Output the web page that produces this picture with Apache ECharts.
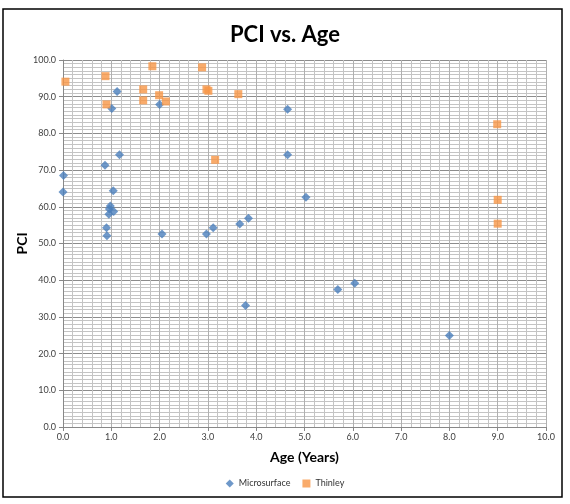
<!DOCTYPE html>
<html>
<head>
<meta charset="utf-8">
<script src="https://cdn.jsdelivr.net/npm/echarts@6/dist/echarts.min.js"></script>
<style>
html,body{margin:0;padding:0;background:#fff;}
#chart{width:570px;height:504px;}
</style>
</head>
<body>
<div id="chart"></div>
<script>
var microAge = [0.01, 0.00, 1.12, 1.01, 0.87, 1.17, 1.04, 0.98, 0.96, 1.05, 0.95, 0.90, 0.91, 2.05, 2.97, 3.11, 3.66, 3.84, 2.00, 3.78, 4.65, 4.65, 5.03, 5.69, 6.04, 8.00];
var microPCI = [68.5, 64.0, 91.4, 86.8, 71.3, 74.2, 64.4, 60.2, 59.4, 58.7, 58.0, 54.3, 52.1, 52.6, 52.6, 54.3, 55.3, 56.9, 87.9, 33.1, 86.6, 74.2, 62.6, 37.5, 39.2, 24.9];
var thinAge = [0.05, 0.88, 0.90, 1.85, 1.66, 1.66, 1.99, 2.13, 2.88, 2.97, 3.01, 3.15, 3.63, 8.99, 9.00, 9.00];
var thinPCI = [94.1, 95.6, 87.9, 98.3, 92.0, 89.0, 90.4, 88.7, 98.0, 92.0, 91.6, 72.8, 90.7, 82.5, 61.9, 55.4];
var seriesNames = ['Microsurface', 'Thinley'];
var titleText = 'PCI vs. Age';
var xName = 'Age (Years)';
var yName = 'PCI';

function pairs(xs, ys){ return xs.map(function(x,i){ return [x, ys[i]]; }); }

var font = 'Lato, Calibri, "Open Sans", sans-serif';
var chart = echarts.init(document.getElementById('chart'));
chart.setOption({
  animation: false,
  backgroundColor: '#fff',
  textStyle: { fontFamily: font },
  title: {
    text: titleText, left: 'center', top: 19,
    textStyle: { fontFamily: font, fontSize: 22, fontWeight: 'bold', color: '#000' }
  },
  graphic: [{
    type: 'rect', shape: { x: 3, y: 9, width: 559, height: 488 },
    style: { fill: 'none', stroke: '#000', lineWidth: 1.5 }, silent: true, z: 100
  }],
  legend: {
    bottom: 11, left: 'center', itemWidth: 8, itemHeight: 8, itemGap: 12,
    textStyle: { fontFamily: font, fontSize: 9, color: '#333' },
    data: [{ name: seriesNames[0], icon: 'diamond' }, { name: seriesNames[1], icon: 'rect' }]
  },
  grid: { left: 63, right: 24, top: 60, bottom: 77 },
  xAxis: {
    type: 'value', min: 0, max: 10, interval: 1,
    name: xName, nameLocation: 'middle', nameGap: 23, nameMoveOverlap: false,
    nameTextStyle: { fontFamily: font, fontSize: 14, fontWeight: 'bold', color: '#000' },
    axisLine: { show: true, lineStyle: { color: '#888', width: 1 } },
    axisTick: { show: true, length: 4, lineStyle: { color: '#888' } },
    axisLabel: { fontSize: 9, color: '#404040', margin: 6, formatter: function(v){ return v.toFixed(1); } },
    splitLine: { show: true, lineStyle: { color: '#b0b0b0', width: 1 } },
    minorTick: { show: false, splitNumber: 5 },
    minorSplitLine: { show: true, lineStyle: { color: '#c4c4c4', width: 1 } }
  },
  yAxis: {
    type: 'value', min: 0, max: 100, interval: 10,
    name: yName, nameLocation: 'middle', nameGap: 34, nameMoveOverlap: false,
    nameTextStyle: { fontFamily: font, fontSize: 14, fontWeight: 'bold', color: '#000' },
    axisLine: { show: true, lineStyle: { color: '#888', width: 1 } },
    axisTick: { show: true, length: 4, lineStyle: { color: '#888' } },
    axisLabel: { fontSize: 9, color: '#404040', margin: 7, formatter: function(v){ return v.toFixed(1); } },
    splitLine: { show: true, lineStyle: { color: '#8c8c8c', width: 1 } },
    minorTick: { show: false, splitNumber: 10 },
    minorSplitLine: { show: true, lineStyle: { color: '#c4c4c4', width: 1 } }
  },
  series: [
    { name: seriesNames[0], type: 'scatter', symbol: 'diamond', symbolSize: 9,
      itemStyle: { color: '#4a7ebb' }, data: pairs(microAge, microPCI) },
    { name: seriesNames[1], type: 'scatter', symbol: 'rect', symbolSize: 8,
      itemStyle: { color: '#f79646' }, data: pairs(thinAge, thinPCI) }
  ]
});
</script>
</body>
</html>
